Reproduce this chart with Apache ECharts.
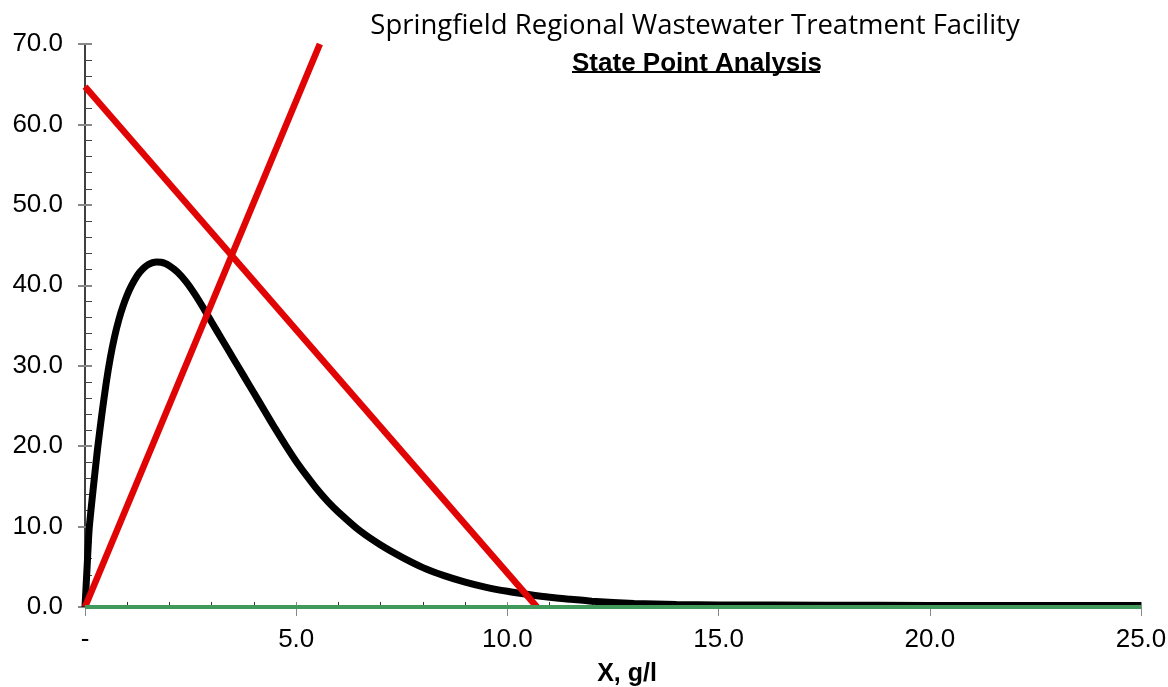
<!DOCTYPE html>
<html>
<head>
<meta charset="utf-8">
<script src="https://cdn.jsdelivr.net/npm/echarts@6/dist/echarts.min.js"></script>
<style>
html,body{margin:0;padding:0;background:#fff;}
#chart{width:1168px;height:687px;}
</style>
</head>
<body>
<div id="chart"></div>
<script>
// ---- data ----
var titleText = 'Springfield Regional Wastewater Treatment Facility';
var subtitleText = 'State Point Analysis';
var xAxisName = 'X, g/l';

// solids flux curve: X (g/l) and flux values
var fluxX = [0, 0.05, 0.1, 0.2, 0.3, 0.4, 0.5, 0.6, 0.7, 0.8, 0.9, 1.0, 1.1, 1.2, 1.3, 1.4,
  1.5, 1.6, 1.7, 1.8, 1.9, 2.0, 2.2, 2.4, 2.6, 2.8, 3.0, 3.25, 3.5, 3.75, 4.0, 4.25,
  4.5, 4.75, 5.0, 5.25, 5.5, 5.75, 6.0, 6.5, 7.0, 7.5, 8.0, 8.5, 9.0, 9.5, 10.0,
  10.5, 11.0, 11.5, 12.0, 13.0, 14.0, 15.0, 17.5, 20.0, 25.0];
var fluxY = [0, 5.0, 9.8, 15.0, 19.8, 24.0, 27.8, 31.0, 33.6, 35.7, 37.4, 38.8, 39.95, 40.9, 41.65, 42.2,
  42.58, 42.82, 42.9, 42.86, 42.7, 42.42, 41.6, 40.4, 38.9, 37.2, 35.4, 33.2, 31.0, 28.8, 26.6, 24.4,
  22.2, 20.1, 18.1, 16.3, 14.6, 13.1, 11.8, 9.5, 7.7, 6.2, 4.9, 3.9, 3.1, 2.45, 1.95,
  1.55, 1.2, 0.95, 0.72, 0.45, 0.32, 0.26, 0.22, 0.2, 0.2];
// overflow rate line
var overflowX = [0, 5.56];
var overflowY = [0, 70];
// underflow rate line
var underflowX = [0, 10.7];
var underflowY = [64.7, 0];
// zero line
var zeroX = [0, 25];
var zeroY = [0, 0];

var xMin = 0, xMax = 25, xInterval = 5;
var yMin = 0, yMax = 70, yInterval = 10;

function pairs(xs, ys) { return xs.map(function (x, i) { return [x, ys[i]]; }); }

var chart = echarts.init(document.getElementById('chart'), null, {renderer: 'canvas'});
var labelFont = 'Liberation Sans, Arial, sans-serif';

function xFmt(v) { return v === 0 ? '-' : v.toFixed(1); }
function yFmt(v) { return v.toFixed(1); }

var option = {
  animation: false,
  backgroundColor: '#ffffff',
  title: [
    {
      text: titleText,
      left: 690, top: 7, textAlign: 'center',
      textStyle: {fontFamily: 'Open Sans, sans-serif', fontWeight: 'normal', fontSize: 27.5, color: '#000'}
    },
    {
      text: subtitleText,
      left: 692, top: 46, textAlign: 'center',
      textStyle: {fontFamily: labelFont, fontWeight: 'bold', fontSize: 26, color: '#000'}
    }
  ],
  graphic: [
    {type: 'line', shape: {x1: 572, y1: 72, x2: 820, y2: 72}, style: {stroke: '#000', lineWidth: 2}}
  ],
  grid: {left: 85, right: 27, top: 44, bottom: 80, containLabel: false, outerBoundsMode: 'none'},
  xAxis: [
    {
      type: 'value', min: xMin, max: xMax, interval: xInterval, position: 'bottom',
      axisLine: {show: true, onZero: false, lineStyle: {color: '#000', width: 1}},
      axisTick: {show: true, inside: false, length: 9, lineStyle: {color: '#888', width: 1}},
      minorTick: {show: false},
      splitLine: {show: false},
      axisLabel: {formatter: xFmt, margin: 20, fontFamily: labelFont, fontSize: 26, color: '#000'},
      name: xAxisName, nameLocation: 'middle', nameGap: 55,
      nameTextStyle: {fontFamily: labelFont, fontWeight: 'bold', fontSize: 25, color: '#000', padding: [0, 0, 0, 28]}
    },
    {
      type: 'value', min: xMin, max: xMax, interval: xInterval, position: 'bottom',
      axisLine: {show: false, onZero: false},
      axisTick: {show: true, inside: true, length: 5, lineStyle: {color: '#888', width: 1}},
      minorTick: {show: true, splitNumber: 5, length: 5, lineStyle: {color: '#333', width: 1}},
      splitLine: {show: false},
      axisLabel: {show: false}
    }
  ],
  yAxis: [
    {
      type: 'value', min: yMin, max: yMax, interval: yInterval, position: 'left',
      axisLine: {show: true, onZero: false, lineStyle: {color: '#000', width: 1.5}},
      axisTick: {show: true, inside: false, length: 7, lineStyle: {color: '#888', width: 2}},
      minorTick: {show: false},
      splitLine: {show: false},
      axisLabel: {formatter: yFmt, margin: 22, fontFamily: labelFont, fontSize: 26, color: '#000'}
    },
    {
      type: 'value', min: yMin, max: yMax, interval: yInterval, position: 'left',
      axisLine: {show: false, onZero: false},
      axisTick: {show: true, inside: true, length: 7, lineStyle: {color: '#888', width: 2}},
      minorTick: {show: true, splitNumber: 5, length: 7, lineStyle: {color: '#444', width: 1}},
      splitLine: {show: false},
      axisLabel: {show: false}
    }
  ],
  series: [
    {
      type: 'line', name: 'Flux', data: pairs(fluxX, fluxY), showSymbol: false, symbol: 'none',
      smooth: 0.2, lineStyle: {color: '#000', width: 7}, z: 2
    },
    {
      type: 'line', name: 'Overflow', data: pairs(overflowX, overflowY), showSymbol: false, symbol: 'none',
      lineStyle: {color: '#e00404', width: 6.5}, z: 3
    },
    {
      type: 'line', name: 'Underflow', data: pairs(underflowX, underflowY), showSymbol: false, symbol: 'none',
      lineStyle: {color: '#e00404', width: 6.5}, z: 3
    },
    {
      type: 'line', name: 'Zero', data: pairs(zeroX, zeroY), showSymbol: false, symbol: 'none',
      lineStyle: {color: '#3f9a5c', width: 4}, z: 4
    }
  ]
};
chart.setOption(option);
</script>
</body>
</html>
